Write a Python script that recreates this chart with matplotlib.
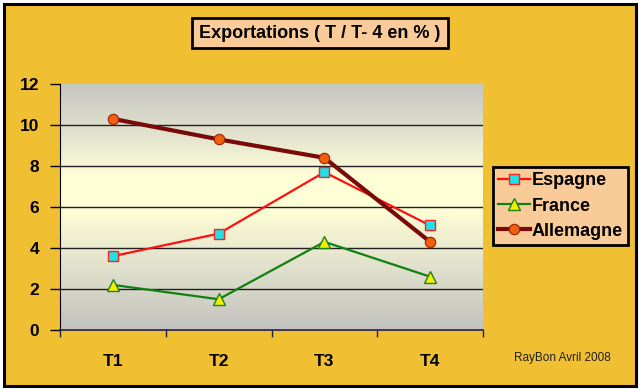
import matplotlib
matplotlib.use("Agg")
import matplotlib.pyplot as plt
import numpy as np
from matplotlib.patches import Rectangle
from matplotlib.colors import LinearSegmentedColormap

categories = ["T1", "T2", "T3", "T4"]
espagne = [3.6, 4.7, 7.7, 5.1]
france = [2.2, 1.5, 4.3, 2.6]
allemagne = [10.3, 9.3, 8.4, 4.3]
yticks = [0, 2, 4, 6, 8, 10, 12]
title = "Exportations ( T / T- 4 en % )"
credit = "RayBon Avril 2008"

plt.rcParams['font.family'] = ['Liberation Sans', 'DejaVu Sans']

gold = "#F0C032"
peach = "#F9CB98"

fig = plt.figure(figsize=(6.4, 3.9), dpi=100)
fig.patch.set_facecolor("white")
# gold background with black frame
fig.patches.append(Rectangle((4/640, 4/390), 632/640, 382/390, transform=fig.transFigure,
                             facecolor=gold, edgecolor="black", linewidth=2.2, zorder=-5))

ax = fig.add_axes([60/640, 60/390, 423/640, 246/390])
x = np.arange(len(categories))
ax.set_xlim(-0.5, len(categories) - 0.5)
ax.set_ylim(0, 12)

# gradient background
cmap = LinearSegmentedColormap.from_list("bg", [
    (0.0, "#C2C2C0"), (0.25, "#E0E0CC"), (0.5, "#FFFFD6"), (0.62, "#FFFFD8"),
    (0.8, "#E2E2CE"), (1.0, "#C6C6C2")])
grad = np.linspace(0, 1, 256).reshape(-1, 1)
ax.imshow(grad, aspect="auto", cmap=cmap, origin="lower",
          extent=[-0.5, len(categories) - 0.5, 0, 12], zorder=0)

for yv in yticks[1:-1]:
    ax.axhline(yv, color="#202020", linewidth=1.0, zorder=1)

ax.plot(x, espagne, color="#FF1010", linewidth=1.6, marker="s", markersize=7.5,
        markerfacecolor="#20E0E8", markeredgecolor="#FF2020", markeredgewidth=1.0,
        label="Espagne", zorder=3)
ax.plot(x, france, color="#108010", linewidth=1.6, marker="^", markersize=8.5,
        markerfacecolor="#F0F000", markeredgecolor="#208020", markeredgewidth=1.0,
        label="France", zorder=3)
ax.plot(x, allemagne, color="#7A0A0A", linewidth=3.0, marker="o", markersize=7.5,
        markerfacecolor="#F06010", markeredgecolor="#A02000", markeredgewidth=0.8,
        label="Allemagne", zorder=4)

ax.set_yticks(yticks)
ax.set_yticklabels([str(v) for v in yticks], fontsize=12.5, fontweight="bold")
ax.set_xticks(x)
ax.set_xticklabels(categories, fontsize=12.5, fontweight="bold")
ax.tick_params(axis="x", length=0, pad=17)
ax.set_xticks(np.arange(-0.5, len(categories), 1.0), minor=True)
ax.tick_params(axis="x", which="minor", length=5, width=1, color="#202040", direction="out")
ax.tick_params(axis="y", length=7, width=1, direction="out", pad=8)

for side in ["top", "right"]:
    ax.spines[side].set_visible(False)
ax.spines["left"].set_color("black")
ax.spines["bottom"].set_color("#202050")
ax.spines["bottom"].set_linewidth(1.2)

leg = ax.legend(loc="upper left", bbox_to_anchor=(493/640, (390-167)/390),
                bbox_transform=fig.transFigure, frameon=True, fancybox=False,
                prop={"weight": "bold", "size": 13}, handlelength=1.75,
                handletextpad=0.1, labelspacing=0.45, borderpad=0.3,
                borderaxespad=0)
frame = leg.get_frame()
frame.set_facecolor(peach)
frame.set_edgecolor("black")
frame.set_linewidth(2)
frame.set_alpha(1)

fig.text(320/640, (390-33)/390, title, ha="center", va="center", fontsize=13,
         fontweight="bold",
         bbox=dict(boxstyle="square,pad=0.38", facecolor=peach, edgecolor="black", linewidth=2))
fig.text(562/640, (390-358)/390, credit, ha="center", va="center", fontsize=8.5,
         color="#202020")

fig.savefig("out.png", dpi=100, facecolor=fig.get_facecolor())
